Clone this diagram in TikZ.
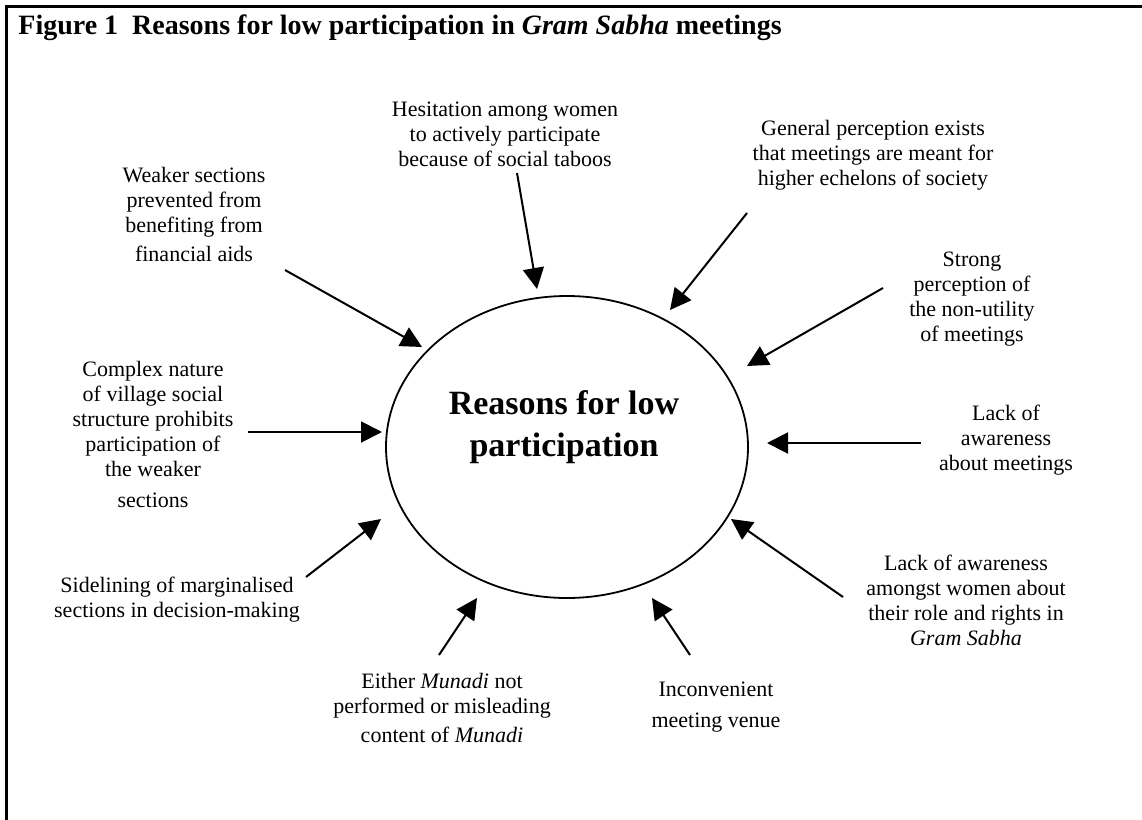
\documentclass[tikz,border=0pt]{standalone}
\usepackage{fontspec}
\setmainfont{Liberation Serif}
\usetikzlibrary{arrows.meta,shapes.geometric}

\begin{document}
\begin{tikzpicture}[x=0.5pt,y=-0.5pt,
    reason/.style={align=center, inner sep=0pt, font=\fontsize{11}{12.5}\selectfont},
    push/.style={-{Triangle[length=10.5pt,width=10.5pt]}, line width=1pt}]
    % 参数设置
    \def\cx{567} % 椭圆中心 x
    \def\cy{447} % 椭圆中心 y

    % 画布与边框
    \useasboundingbox (0,0) rectangle (1142,820);
    \draw[line width=1.25pt] (1142,6.5) -- (6.5,6.5) -- (6.5,820);

    % 标题
    \node[anchor=base west, inner sep=0pt, font=\fontsize{14}{16}\selectfont\bfseries] (title) at (18,34)
        {Figure 1\ \ Reasons for low participation in \textit{Gram Sabha} meetings};

    % 中心椭圆
    \node[draw, ellipse, line width=0.9pt, minimum width=181pt, minimum height=151pt, inner sep=0pt] (core) at (\cx,\cy) {};
    \node[align=center, inner sep=0pt, font=\fontsize{17}{21}\selectfont\bfseries] (coretext) at (564,427)
        {Reasons for low\\participation};

    % 各项原因
    \node[reason] (weak) at (194,214) {Weaker sections\\prevented from\\benefiting from\\[2pt]financial aids};
    \node[reason] (hes) at (505,134) {Hesitation among women\\to actively participate\\because of social taboos};
    \node[reason] (gen) at (873,155) {General perception exists\\that meetings are meant for\\higher echelons of society};
    \node[reason] (strong) at (972,299) {Strong\\perception of\\the non-utility\\of meetings};
    \node[reason] (lackm) at (1006,440) {Lack of\\awareness\\about meetings};
    \node[reason] (lackw) at (966,600) {Lack of awareness\\amongst women about\\their role and rights in\\\textit{Gram Sabha}};
    \node[reason] (venue) at (716,707) {Inconvenient\\[3pt]meeting venue};
    \node[reason] (munadi) at (442,708) {Either \textit{Munadi} not\\performed or misleading\\[2pt]content of \textit{Munadi}};
    \node[reason] (side) at (177,600) {Sidelining of marginalised\\sections in decision-making};
    \node[reason] (complex) at (153,434) {Complex nature\\of village social\\structure prohibits\\participation of\\the weaker\\[3pt]sections};

    % 箭头端点
    \coordinate (weak-s) at (285,270);    \coordinate (weak-t) at (422,347);
    \coordinate (hes-s) at (517,173);     \coordinate (hes-t) at (537,289);
    \coordinate (gen-s) at (747,213);     \coordinate (gen-t) at (670,310);
    \coordinate (strong-s) at (883,288);  \coordinate (strong-t) at (747,366);
    \coordinate (lackm-s) at (921,443);   \coordinate (lackm-t) at (767,443);
    \coordinate (lackw-s) at (843,597);   \coordinate (lackw-t) at (731,519);
    \coordinate (venue-s) at (690,655);   \coordinate (venue-t) at (652,598);
    \coordinate (munadi-s) at (439,655);  \coordinate (munadi-t) at (477,598);
    \coordinate (side-s) at (306,577);    \coordinate (side-t) at (381,519);
    \coordinate (complex-s) at (248,432); \coordinate (complex-t) at (382,432);

    % 箭头
    \draw[push] (weak-s) -- (weak-t);
    \draw[push] (hes-s) -- (hes-t);
    \draw[push] (gen-s) -- (gen-t);
    \draw[push] (strong-s) -- (strong-t);
    \draw[push] (lackm-s) -- (lackm-t);
    \draw[push] (lackw-s) -- (lackw-t);
    \draw[push] (venue-s) -- (venue-t);
    \draw[push] (munadi-s) -- (munadi-t);
    \draw[push] (side-s) -- (side-t);
    \draw[push] (complex-s) -- (complex-t);
\end{tikzpicture}
\end{document}
